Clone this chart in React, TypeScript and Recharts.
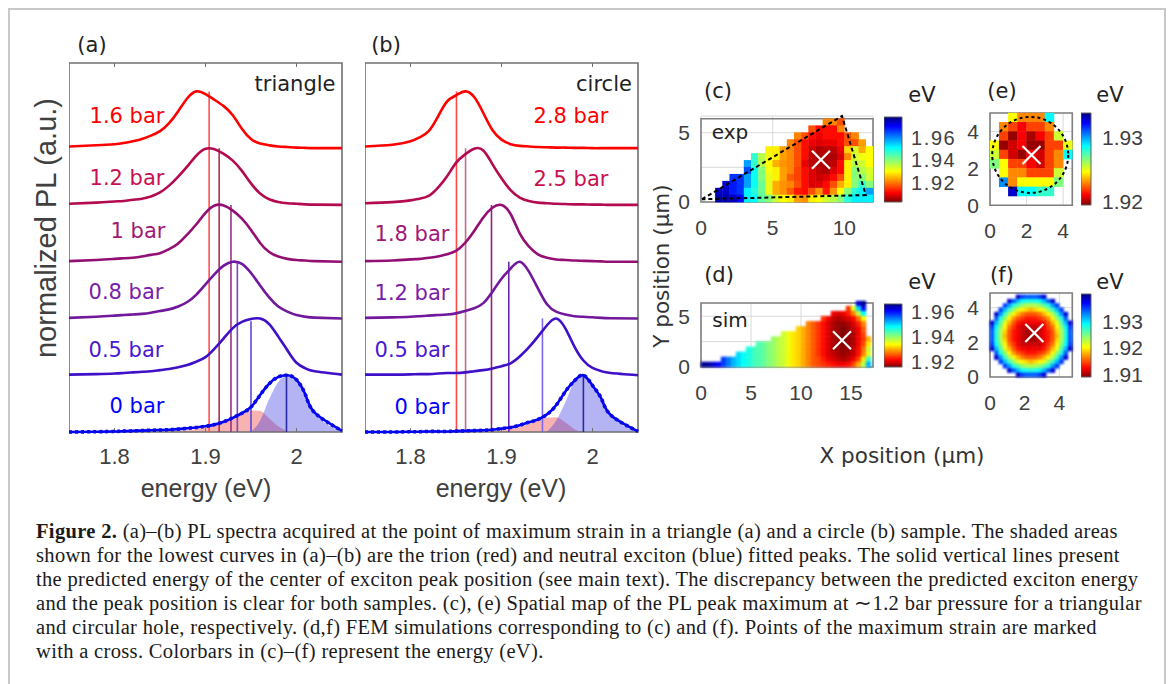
import React from 'react';
import {
  ComposedChart, ScatterChart, BarChart, Line, Area, Bar, Scatter, XAxis, YAxis,
  CartesianGrid, ReferenceLine, ReferenceArea,
} from 'recharts';

const _ = null;

// photon energy grid of the spectra (eV)
const energies = [1.75, 1.78, 1.8, 1.81, 1.82, 1.83, 1.84, 1.85, 1.86, 1.87, 1.88, 1.89, 1.9, 1.91, 1.92, 1.93, 1.94, 1.95, 1.96, 1.97, 1.98, 1.99, 2.0, 2.01, 2.02, 2.05];
const energyTicks = [1.8, 1.9, 2];

// panel (a), triangle, normalized PL
const a0 = [0, .005, .01, .015, .02, .025, .03, .035, .04, .05, .065, .08, .1, .13, .18, .25, .33, .44, .65, .85, .97, 1, .92, .65, .34, .02];
const a05 = [.01, .02, .03, .04, .05, .06, .07, .09, .11, .14, .18, .24, .32, .47, .65, .83, .94, .99, 1, .9, .68, .44, .22, .12, .07, .01];
const a08 = [.01, .03, .05, .06, .07, .08, .1, .13, .16, .21, .29, .42, .6, .78, .93, 1, .96, .8, .58, .37, .21, .12, .06, .03, .015, 0];
const a1 = [.01, .03, .05, .06, .07, .09, .12, .15, .22, .32, .48, .66, .86, .99, .99, .9, .76, .56, .33, .17, .09, .05, .03, .02, .01, 0];
const a12 = [.02, .04, .06, .07, .09, .11, .15, .22, .34, .5, .68, .87, .99, .98, .9, .78, .6, .38, .2, .1, .05, .03, .02, .01, .005, 0];
const a16 = [.03, .05, .07, .09, .12, .16, .22, .3, .44, .65, .88, 1, .95, .85, .74, .58, .34, .16, .08, .05, .03, .02, .01, .005, 0, 0];
const aTrion = [_, _, _, _, _, _, _, .005, .01, .02, .03, .05, .08, .12, .18, .27, .34, .38, .37, .24, .1, .01, _, _, _, _];
const aExciton = [_, _, _, _, _, _, _, _, _, _, _, _, _, _, _, _, _, .005, .2, .58, .88, 1, .91, .65, .34, .02];

// panel (b), circle
const b0 = [0, 0, .005, .005, .01, .01, .01, .015, .02, .025, .03, .04, .06, .08, .12, .17, .22, .31, .47, .71, .9, 1, .82, .58, .3, .01];
const b05 = [.01, .01, .015, .02, .02, .03, .04, .04, .05, .07, .09, .12, .16, .21, .33, .49, .68, .88, 1, .83, .51, .26, .13, .07, .04, 0];
const b12 = [.01, .02, .03, .04, .05, .06, .07, .09, .13, .18, .27, .47, .7, .88, 1, .83, .53, .25, .12, .07, .04, .03, .02, .01, .005, 0];
const b18 = [.01, .02, .04, .05, .07, .09, .13, .19, .33, .54, .78, .95, 1, .84, .5, .27, .13, .07, .04, .03, .02, .015, .01, .005, 0, 0];
const b25 = [.03, .05, .08, .11, .16, .3, .5, .74, .89, .99, .96, .72, .47, .26, .13, .07, .04, .03, .02, .015, .01, .01, .005, .005, 0, 0];
const b28 = [.03, .06, .12, .19, .3, .55, .82, .93, 1, .9, .62, .32, .15, .07, .04, .03, .02, .015, .01, .01, .005, .005, 0, 0, 0, 0];
const bTrion = [_, _, _, _, _, _, _, _, _, _, .005, .01, .03, .05, .09, .14, .2, .25, .26, .17, .05, 0, _, _, _, _];
const bExciton = [_, _, _, _, _, _, _, _, _, _, _, _, _, _, _, _, _, .01, .2, .52, .88, 1, .82, .58, .3, .01];

const curveColors = ['#0000ff', '#3f10c8', '#72189c', '#930f74', '#b30a50', '#ff0000'];
const labelColors = ['#0000ff', '#4a18d0', '#7a20a8', '#a01878', '#c81050', '#ff0000'];
const lineColors = ['#2a2aa8', '#5a48dc', '#7a48b8', '#9a3088', '#a83058', '#ff5050'];
const lineColorsB = ['#2a2aa8', '#7a68e8', '#6a28a8', '#92207a', '#c86a88', '#ff4848'];

// predicted exciton energy (eV) and the level each vertical line rises to
const predictedA = [1.989, 1.95, 1.935, 1.928, 1.915, 1.904];
const topsA = [1, 1.95, 3, 4, 5, 6];
const predictedB = [1.99, 1.945, 1.908, 1.889, 1.8605, 1.8505];
const topsB = [1, 2, 3, 4, 5, 6];

// PL peak maps, meV above 1.9 eV, rows from top to bottom
const mapC = [
  [_, _, _, _, _, _, _, _, _, _, _, _, _, _, _, _, _, 21, 21, 17, _, _, _, _],
  [_, _, _, _, _, _, _, _, _, _, _, _, _, _, _, 17, 12, 12, 12, 21, _, _, _, _],
  [_, _, _, _, _, _, _, _, _, _, _, _, _, 21, 17, 12, 10, 12, 12, 12, 17, 21, _, _],
  [_, _, _, _, _, _, _, _, _, _, _, _, 21, 17, 12, 10, 9, 10, 10, 12, 17, 17, 23, _],
  [_, _, _, _, _, _, _, _, _, 29, 29, 23, 21, 17, 12, 8, 6, 7, 7, 10, 27, 33, 24, 30],
  [_, _, _, _, _, _, _, 47, 36, 31, 29, 23, 21, 17, 12, 7, 6, 6, 6, 9, 21, 34, 31, 30],
  [_, _, _, _, _, _, 58, 47, 36, 30, 24, 22, 21, 17, 10, 7, 6, 6, 7, 12, 29, 36, 34, 30],
  [_, _, _, _, _, _, 64, 50, 40, 31, 29, 23, 21, 16, 12, 9, 7, 6, 9, 12, 29, 40, 36, 33],
  [_, _, _, _, 66, 66, 58, 50, 40, 32, 29, 23, 18, 16, 12, 9, 8, 9, 12, 17, 29, 40, 40, 34],
  [_, _, _, 72, 68, 66, 58, 50, 42, 32, 24, 22, 21, 17, 12, 9, 9, 12, 17, 24, 29, 40, 47, 40],
  [_, _, 74, 73, 68, 66, 52, 48, 42, 32, 24, 22, 18, 13, 12, 17, 22, 13, 22, 30, 40, 48, 52, 58],
  [_, _, 75, 75, 74, 70, 52, 51, 43, 40, 34, 30, 29, 23, 22, 29, 30, 34, 36, 40, 48, 52, 52, 52],
];

const mapD = [
  [_, _, _, _, _, _, _, _, _, _, _, _, _, _, _, _, _, _, _, _, _, _, _, _, _, _, _, _, _, _, _, 62, 66, _],
  [_, _, _, _, _, _, _, _, _, _, _, _, _, _, _, _, _, _, _, _, _, _, _, _, _, _, _, _, _, 24, 36, 50, 60, _],
  [_, _, _, _, _, _, _, _, _, _, _, _, _, _, _, _, _, _, _, _, _, _, _, _, _, _, 21, 20, 21, 23, 28, 38, 48, _],
  [_, _, _, _, _, _, _, _, _, _, _, _, _, _, _, _, _, _, _, _, _, _, _, _, 24, 21, 19, 18, 19, 20, 22, 27, 34, _],
  [_, _, _, _, _, _, _, _, _, _, _, _, _, _, _, _, _, _, _, _, _, 28, 26, 24, 22, 20, 18, 17, 17, 18, 20, 23, 28, _],
  [_, _, _, _, _, _, _, _, _, _, _, _, _, _, _, _, _, _, _, 32, 30, 28, 26, 24, 22, 20, 18, 17, 16, 17, 19, 21, 26, _],
  [_, _, _, _, _, _, _, _, _, _, _, _, _, _, _, _, 37, 35, 33, 32, 30, 28, 26, 24, 22, 20, 18, 17, 16, 17, 18, 21, 25, _],
  [_, _, _, _, _, _, _, _, _, _, _, _, _, _, 40, 38, 37, 35, 33, 32, 30, 28, 26, 24, 22, 20, 18, 17, 16, 17, 18, 21, 24, 30],
  [_, _, _, _, _, _, _, _, _, _, _, 44, 43, 41, 40, 38, 37, 35, 33, 32, 30, 28, 26, 24, 22, 20, 18, 17, 16, 17, 18, 21, 25, 33],
  [_, _, _, _, _, _, _, _, _, 47, 45, 44, 43, 41, 40, 38, 37, 35, 33, 32, 30, 28, 26, 24, 22, 20, 18, 17, 17, 17, 19, 22, 27, 37],
  [_, _, _, _, _, _, _, 50, 48, 47, 45, 44, 43, 41, 40, 38, 37, 35, 33, 32, 30, 28, 26, 24, 22, 20, 19, 18, 17, 18, 19, 22, 28, 36],
  [_, _, _, _, 58, 55, 52, 50, 48, 47, 45, 44, 43, 41, 40, 38, 37, 35, 33, 32, 30, 28, 26, 25, 23, 21, 20, 19, 18, 19, 21, 25, 33, 45],
  [66, 65, 63, 61, 58, 55, 52, 50, 48, 47, 45, 44, 43, 41, 40, 38, 37, 35, 33, 32, 30, 28, 26, 25, 24, 23, 22, 21, 21, 22, 25, 30, 38, 52],
];

const mapE = [
  [_, _, 24.7, 23, 23, 23, 28.7, _, _],
  [_, 23, 22, 21, 22, 22, 23, _, _],
  [_, 22, 19.8, 21, 20, 21, 22, 25.5, _],
  [24.7, 19.8, 20.5, 21, 19.8, 19.8, 22, 22, 25],
  [25.5, 22, 20.5, 19.8, 21, 20.5, 22, 23, 28.7],
  [26.7, 24.7, 22, 22, 21, 20.5, 22, 23, _],
  [_, 24.7, 23, 23, 22, 22, 22, 25.5, _],
  [_, 30.3, 23, 24.7, 24.7, 24.7, 24.7, 26.7, _],
  [_, _, 33, 28.7, 28.7, 27.9, 27.9, _, _],
  [_, _, _, _, _, _, _, _, _],
];

const mapF = [
  [_, _, _, _, _, _, 38, 35, 34, 34, 34, 35, 38, _, _, _, _, _, _],
  [_, _, _, _, 38, 34, 31, 29, 28, 28, 28, 29, 31, 34, 38, _, _, _, _],
  [_, _, _, 35, 32, 28, 26, 24, 23, 23, 23, 24, 26, 28, 32, 35, _, _, _],
  [_, _, 35, 31, 27, 24, 21, 20, 19, 18, 19, 20, 21, 24, 27, 31, 35, _, _],
  [_, 38, 32, 27, 23, 20, 18, 16, 15, 15, 15, 16, 18, 20, 23, 27, 32, 38, _],
  [_, 34, 28, 24, 20, 17, 15, 14, 13, 13, 13, 14, 15, 17, 20, 24, 28, 34, _],
  [38, 31, 26, 21, 18, 15, 13, 12, 12, 12, 12, 12, 13, 15, 18, 21, 26, 31, 38],
  [35, 29, 24, 20, 16, 14, 12, 11, 11, 11, 11, 11, 12, 14, 16, 20, 24, 29, 35],
  [34, 28, 23, 19, 15, 13, 12, 11, 10, 10, 10, 11, 12, 13, 15, 19, 23, 28, 34],
  [34, 28, 23, 18, 15, 13, 12, 11, 10, 10, 10, 11, 12, 13, 15, 18, 23, 28, 34],
  [34, 28, 23, 19, 15, 13, 12, 11, 10, 10, 10, 11, 12, 13, 15, 19, 23, 28, 34],
  [35, 29, 24, 20, 16, 14, 12, 11, 11, 11, 11, 11, 12, 14, 16, 20, 24, 29, 35],
  [38, 31, 26, 21, 18, 15, 13, 12, 12, 12, 12, 12, 13, 15, 18, 21, 26, 31, 38],
  [_, 34, 28, 24, 20, 17, 15, 14, 13, 13, 13, 14, 15, 17, 20, 24, 28, 34, _],
  [_, 38, 32, 27, 23, 20, 18, 16, 15, 15, 15, 16, 18, 20, 23, 27, 32, 38, _],
  [_, _, 35, 31, 27, 24, 21, 20, 19, 18, 19, 20, 21, 24, 27, 31, 35, _, _],
  [_, _, _, 35, 32, 28, 26, 24, 23, 23, 23, 24, 26, 28, 32, 35, _, _, _],
  [_, _, _, _, 38, 34, 31, 29, 28, 28, 28, 29, 31, 34, 38, _, _, _, _],
  [_, _, _, _, _, _, 38, 35, 34, 34, 34, 35, 38, _, _, _, _, _, _],
];

// sample outlines on the experimental maps (um)
const triangleX = [0.07, 9.84, 11.5, 0.07];
const triangleY = [0.2, 6.2, 0.5, 0.2];
const holeCenter = [2.2, 2.73];

const captionLines = [
  '(a)–(b) PL spectra acquired at the point of maximum strain in a triangle (a) and a circle (b) sample. The shaded areas',
  'shown for the lowest curves in (a)–(b) are the trion (red) and neutral exciton (blue) fitted peaks. The solid vertical lines present',
  'the predicted energy of the center of exciton peak position (see main text). The discrepancy between the predicted exciton energy',
  'and the peak position is clear for both samples. (c), (e) Spatial map of the PL peak maximum at ∼1.2 bar pressure for a triangular',
  'and circular hole, respectively. (d,f) FEM simulations corresponding to (c) and (f). Points of the maximum strain are marked',
  'with a cross. Colorbars in (c)–(f) represent the energy (eV).',
];

const SANS = '"Liberation Sans", Arial, sans-serif';
const DEJA = '"DejaVu Sans", Verdana, sans-serif';
const SERIF = '"Liberation Serif", "Times New Roman", serif';
const AXIS_GRAY = '#404040';

const Txt = ({ x, y, size = 21, color = '#222', font = DEJA, rotate = 0, children }: any) => (
  <div
    style={{
      position: 'absolute', left: x, top: y, fontSize: size, fontFamily: font, color,
      lineHeight: 1, whiteSpace: 'nowrap', transform: `translate(-50%, -50%) rotate(${rotate}deg)`,
    }}
  >
    {children}
  </div>
);

const jetStops: [number, number[]][] = [
  [0, [127, 0, 0]], [0.11, [255, 0, 0]], [0.36, [255, 255, 0]], [0.5, [128, 255, 128]],
  [0.64, [0, 255, 255]], [0.89, [0, 0, 255]], [1, [0, 0, 127]],
];
const jet = (t: number) => {
  const c = Math.max(0, Math.min(1, t));
  for (let i = 1; i < jetStops.length; i++) {
    const [t1, rgb1] = jetStops[i];
    const [t0, rgb0] = jetStops[i - 1];
    if (c <= t1) {
      const k = (c - t0) / (t1 - t0);
      return `rgb(${rgb0.map((v, j) => Math.round(v + (rgb1[j] - v) * k)).join(',')})`;
    }
  }
  return 'rgb(0,0,127)';
};

const SpectraPanel = ({ left, curves, trion, exciton, predicted, tops, colors }: any) => {
  const width = 273;
  const height = 369;
  const table = energies.map((energy, i) => {
    const row: any = { energy, trion: trion[i], exciton: exciton[i] };
    curves.forEach((c: number[], k: number) => {
      row[`s${k}`] = c[i] + k;
    });
    return row;
  });
  return (
    <div style={{ position: 'absolute', left, top: 53 }}>
      <ComposedChart width={width + 10} height={height + 50} data={table} margin={{ top: 10, right: 10, bottom: 0, left: 0 }}>
        <XAxis
          dataKey="energy" type="number" domain={[1.75, 2.05]} ticks={energyTicks} height={40}
          tickLine={false} tickSize={0} tickMargin={16} axisLine={false}
          tick={{ fontSize: 22, fontFamily: SANS, fill: AXIS_GRAY }}
        />
        <YAxis hide type="number" domain={[0, 6.5]} />
        <Area dataKey="trion" type="monotone" fill="#f04848" fillOpacity={0.42} stroke="none" isAnimationActive={false} />
        <Area dataKey="exciton" type="monotone" fill="#3030e0" fillOpacity={0.36} stroke="none" isAnimationActive={false} />
        {energyTicks.map((e) => (
          <ReferenceLine key={`b${e}`} segment={[{ x: e, y: 0 }, { x: e, y: 0.07 }]} stroke="#707070" strokeWidth={1} />
        ))}
        {energyTicks.map((e) => (
          <ReferenceLine key={`t${e}`} segment={[{ x: e, y: 6.43 }, { x: e, y: 6.5 }]} stroke="#707070" strokeWidth={1} />
        ))}
        {predicted.map((e: number, i: number) => (
          <ReferenceLine
            key={e} segment={[{ x: e, y: 0 }, { x: e, y: tops[i] }]}
            stroke={colors[i]} strokeWidth={1.6} ifOverflow="visible"
          />
        ))}
        {curves.map((_c: number[], k: number) => (
          <Line
            key={k} dataKey={`s${k}`} type="natural" dot={false} stroke={curveColors[k]}
            strokeWidth={2.6} isAnimationActive={false}
          />
        ))}
        <Line dataKey="s0" type="natural" dot={false} stroke="#0a0ae0" strokeWidth={3.6} strokeDasharray="3 3" isAnimationActive={false} />
        <ReferenceArea x1={1.75} x2={2.05} y1={0} y2={6.5} fill="none" stroke="#707070" strokeWidth={1.6} ifOverflow="visible" />
      </ComposedChart>
    </div>
  );
};

const toCells = (rows: (number | null)[][], cell: number) => {
  const out: any[] = [];
  rows.forEach((row, r) => {
    row.forEach((v, c) => {
      if (v !== null) out.push({ x: (c + 0.5) * cell, y: (rows.length - 1 - r + 0.5) * cell, v: 1900 + v });
    });
  });
  return out;
};

const Cross = ({ cx, cy }: any) => (
  <g stroke="#fff" strokeWidth={2.2}>
    <line x1={cx - 9} y1={cy - 9} x2={cx + 9} y2={cy + 9} />
    <line x1={cx - 9} y1={cy + 9} x2={cx + 9} y2={cy - 9} />
  </g>
);

const HoleOutline = ({ cx, cy }: any) => (
  <circle cx={cx} cy={cy} r={38} fill="none" stroke="#000" strokeWidth={2} strokeDasharray="3 3" />
);

const NoMarker = () => null;

const MapPanel = ({ box, xMax, yMax, xTicks, yTicks, rows, cell, range, cross, soft, outline, hole }: any) => {
  const cw = (cell / xMax) * box.w;
  const ch = (cell / yMax) * box.h;
  const cells = toCells(rows, cell);
  const CellRect = ({ cx, cy, payload }: any) => (
    <rect
      x={cx - cw / 2 - 0.2} y={cy - ch / 2 - 0.2} width={cw + 0.4} height={ch + 0.4}
      fill={jet((payload.v - range[0]) / (range[1] - range[0]))}
    />
  );
  return (
    <div style={{ position: 'absolute', left: box.l - 40, top: box.t - 12 }}>
      <ScatterChart width={box.w + 40 + 12} height={box.h + 12 + 40} margin={{ top: 12, right: 12, bottom: 0, left: 0 }}>
        <CartesianGrid stroke="#dadada" strokeWidth={1} />
        <XAxis
          dataKey="x" type="number" domain={[0, xMax]} ticks={xTicks} interval={0} height={40}
          tickLine={false} axisLine={false} tickSize={0} tickMargin={18}
          tick={{ fontSize: 21, fontFamily: SANS, fill: AXIS_GRAY }}
        />
        <YAxis
          dataKey="y" type="number" domain={[0, yMax]} ticks={yTicks} interval={0} width={40}
          tickLine={false} axisLine={false} tickSize={0} tickMargin={11}
          tick={{ fontSize: 21, fontFamily: SANS, fill: AXIS_GRAY }}
          tickFormatter={(v: number) => (v === 2.5 ? '' : String(v))}
        />
        <ReferenceArea x1={0} x2={xMax} y1={0} y2={yMax} fill="none" stroke="#808080" strokeWidth={1.6} ifOverflow="visible" />
        <Scatter data={cells} shape={CellRect} className={soft ? 'soft-map' : undefined} isAnimationActive={false} />
        {outline && (
          <Scatter
            data={outline} shape={NoMarker} line={{ stroke: '#000', strokeWidth: 2, strokeDasharray: '4 3' }}
            isAnimationActive={false}
          />
        )}
        {hole && <Scatter data={[hole]} shape={HoleOutline} isAnimationActive={false} />}
        <Scatter data={[{ x: cross[0], y: cross[1] }]} shape={Cross} isAnimationActive={false} />
      </ScatterChart>
    </div>
  );
};

const ColorBar = ({ id, box, range, ticks, tickMargin = 9, fontSize = 20, spread = 1.6 }: any) => (
  <div style={{ position: 'absolute', left: box.l, top: box.t - 12 }}>
    <BarChart
      width={box.w + 62} height={box.h + 24} data={[{ name: 'eV' }]} barCategoryGap={0}
      margin={{ top: 12, right: 0, bottom: 12, left: 0 }}
    >
      <defs>
        <linearGradient id={id} x1="0" y1="1" x2="0" y2="0">
          {jetStops.map(([t, rgb]) => (
            <stop key={t} offset={t} stopColor={`rgb(${rgb.join(',')})`} />
          ))}
        </linearGradient>
      </defs>
      <XAxis dataKey="name" hide />
      <YAxis
        orientation="right" type="number" domain={range} ticks={ticks} interval={0} width={62}
        tickLine={false} axisLine={false} tickSize={0} tickMargin={tickMargin}
        tick={{ fontSize, fontFamily: SANS, fill: AXIS_GRAY, letterSpacing: spread }}
        tickFormatter={(v: number) => v.toFixed(2)}
      />
      <Bar dataKey={() => range} fill={`url(#${id})`} stroke="#606060" strokeWidth={1} isAnimationActive={false} />
    </BarChart>
  </div>
);

export default function App() {
  const barsA = [[127, 116, '1.6 bar', 5], [127, 178, '1.2 bar', 4], [138, 231, '1 bar', 3], [126, 292, '0.8 bar', 2], [126, 350, '0.5 bar', 1], [137, 406, '0 bar', 0]];
  const barsB = [[571, 116, '2.8 bar', 5], [571, 179, '2.5 bar', 4], [412, 234, '1.8 bar', 3], [412, 293, '1.2 bar', 2], [412, 350, '0.5 bar', 1], [422, 407, '0 bar', 0]];
  const triangle = triangleX.map((x, i) => ({ x, y: triangleY[i] }));
  return (
    <div style={{ position: 'absolute', left: 0, top: 0, width: 1171, height: 684, overflow: 'hidden', background: '#fff' }}>
      <style>{'.soft-map { filter: blur(1px); }'}</style>
      <div style={{ position: 'absolute', left: 8, top: 8, width: 1154, height: 690, border: '2px solid #c8c8c8' }} />

      <SpectraPanel
        left={69} curves={[a0, a05, a08, a1, a12, a16]} trion={aTrion} exciton={aExciton}
        predicted={predictedA} tops={topsA} colors={lineColors}
      />
      <SpectraPanel
        left={365} curves={[b0, b05, b12, b18, b25, b28]} trion={bTrion} exciton={bExciton}
        predicted={predictedB} tops={topsB} colors={lineColorsB}
      />

      <MapPanel
        box={{ l: 700.7, t: 116, w: 172, h: 86 }} xMax={12} yMax={6} xTicks={[0, 5, 10]} yTicks={[0, 2.5, 5]}
        rows={mapC} cell={0.5} range={[1903, 1978]} cross={[8.37, 3.05]} outline={triangle}
      />
      <MapPanel
        box={{ l: 700.7, t: 303, w: 172, h: 64 }} xMax={17.2} yMax={6.3} xTicks={[0, 5, 10, 15]} yTicks={[0, 2.5, 5]}
        rows={mapD} cell={0.5} range={[1916, 1966.5]} cross={[14.1, 2.63]} soft
      />
      <MapPanel
        box={{ l: 990, t: 112.7, w: 82.3, h: 92.3 }} xMax={4.5} yMax={5} xTicks={[0, 2, 4]} yTicks={[0, 2, 4]}
        rows={mapE} cell={0.5} range={[1919.5, 1933.9]} cross={[2.27, 2.73]} hole={{ x: holeCenter[0], y: holeCenter[1] }}
      />
      <MapPanel
        box={{ l: 990, t: 293, w: 82.3, h: 84 }} xMax={4.75} yMax={4.85} xTicks={[0, 2, 4]} yTicks={[0, 2, 4]}
        rows={mapF} cell={0.25} range={[1909, 1940.2]} cross={[2.56, 2.54]} soft
      />

      <ColorBar id="jet-c" box={{ l: 884, t: 117, w: 18, h: 85 }} range={[1.903, 1.978]} ticks={[1.92, 1.94, 1.96]} />
      <ColorBar id="jet-d" box={{ l: 884, t: 304, w: 18, h: 63 }} range={[1.916, 1.9665]} ticks={[1.92, 1.94, 1.96]} />
      <ColorBar id="jet-e" box={{ l: 1081, t: 113, w: 10, h: 92 }} range={[1.9195, 1.9339]} ticks={[1.92, 1.93]} tickMargin={11} fontSize={21} spread={0} />
      <ColorBar id="jet-f" box={{ l: 1081, t: 294, w: 10, h: 83 }} range={[1.909, 1.9402]} ticks={[1.91, 1.92, 1.93]} tickMargin={11} fontSize={21} spread={0} />

      <Txt x={92} y={45}>(a)</Txt>
      <Txt x={386} y={45}>(b)</Txt>
      <Txt x={295} y={84}>triangle</Txt>
      <Txt x={604} y={84}>circle</Txt>
      {barsA.map(([x, y, t, k]: any) => <Txt key={t} x={x} y={y} color={labelColors[k]}>{t}</Txt>)}
      {barsB.map(([x, y, t, k]: any) => <Txt key={t} x={x} y={y} color={labelColors[k]}>{t}</Txt>)}
      <Txt x={46} y={228} size={29} font={SANS} color={AXIS_GRAY} rotate={-90}>normalized PL (a.u.)</Txt>
      <Txt x={206} y={488} size={25} font={SANS} color={AXIS_GRAY}>energy (eV)</Txt>
      <Txt x={501} y={488} size={25} font={SANS} color={AXIS_GRAY}>energy (eV)</Txt>

      <Txt x={718} y={91}>(c)</Txt>
      <Txt x={719} y={275}>(d)</Txt>
      <Txt x={1002} y={91}>(e)</Txt>
      <Txt x={1002} y={275}>(f)</Txt>
      <Txt x={922} y={95}>eV</Txt>
      <Txt x={922} y={282}>eV</Txt>
      <Txt x={1110} y={95}>eV</Txt>
      <Txt x={1110} y={282}>eV</Txt>
      <Txt x={730} y={132} size={20}>exp</Txt>
      <Txt x={730} y={320} size={20}>sim</Txt>
      <Txt x={902} y={456} size={21.5} color="#333">X position (μm)</Txt>
      <Txt x={662} y={266} size={21.5} color="#333" rotate={-90}>Y position (μm)</Txt>

      {captionLines.map((line, i) => (
        <div
          key={i}
          style={{
            position: 'absolute', left: 36, top: 521 + i * 23.9, fontFamily: SERIF, fontSize: 20.5,
            letterSpacing: 0.33, lineHeight: '20px', whiteSpace: 'nowrap', color: '#1a1a1a',
          }}
        >
          {i === 0 && <b>Figure 2. </b>}
          {line}
        </div>
      ))}
    </div>
  );
}
